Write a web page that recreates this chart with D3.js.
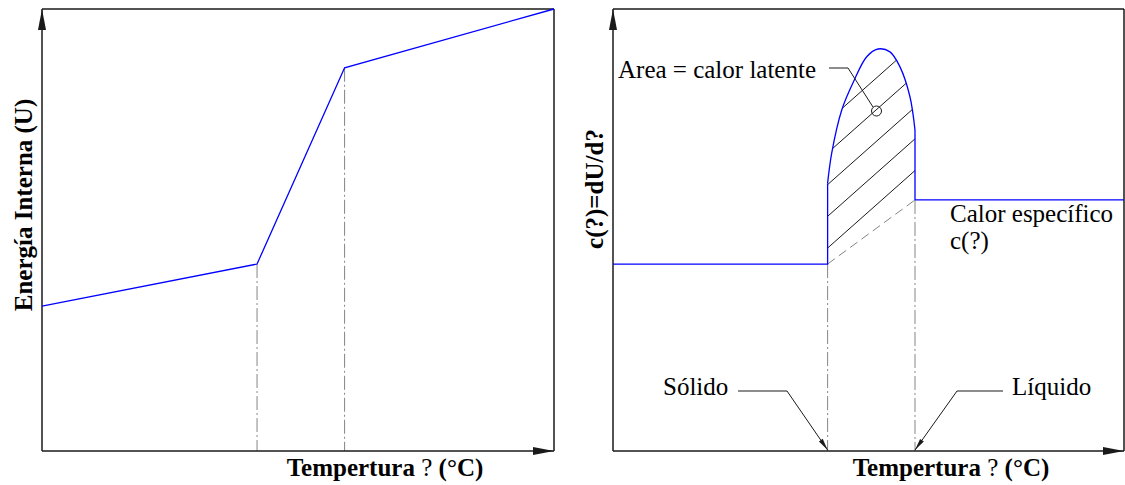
<!DOCTYPE html>
<html><head><meta charset="utf-8">
<script src="https://cdn.jsdelivr.net/npm/d3@7"></script>
<style>body{margin:0;background:#fff}svg{display:block}</style></head>
<body><svg id="c" width="1125" height="485"></svg>
<script>
// ---- data ----
const tempDomain = [0, 100];
const valueDomain = [0, 100];
const uTemp = [0, 42, 59.1, 100];
const uEnergy = [32.8, 42.3, 86.7, 100];
const solidusT = 42, liquidusT = 59.1;
const cSolid = 42.3, cLiquid = 56.8;
const domeTemp = [42, 42.8, 44.75, 46.97, 49.65, 51.86, 54.2, 56.16, 58.1, 59.1];
const domeC = [60.6, 67.4, 77.1, 83.3, 89.2, 90.95, 90.3, 86.9, 80.2, 72.6];
const xTitleParts = ["Tempertura", " ? ", "(°C)"];
const yTitleLeft = "Energía Interna (U)";
const yTitleRight = "c(?)=dU/d?";
const annArea = "Area = calor latente";
const annSolid = "Sólido";
const annLiquid = "Líquido";
const annCp = ["Calor específico", "c(?)"];

// ---- setup ----
const svg = d3.select("#c");
const FONT = "'Liberation Serif','Times New Roman',serif";
const FS = 25;
const INK = "#1a1a1a", BLUE = "#0000ff", GRAY = "#858585";

const defs = svg.append("defs");
defs.append("marker").attr("id", "axArrow").attr("markerUnits", "userSpaceOnUse")
  .attr("viewBox", "-21 -5 22 10").attr("refX", 0).attr("refY", 0)
  .attr("markerWidth", 22).attr("markerHeight", 10).attr("orient", "auto")
  .append("path").attr("d", "M-21,-4 L0,0 L-21,4 Z").attr("fill", INK);
defs.append("marker").attr("id", "ldArrow").attr("markerUnits", "userSpaceOnUse")
  .attr("viewBox", "-13 -4 14 8").attr("refX", 0).attr("refY", 0)
  .attr("markerWidth", 14).attr("markerHeight", 8).attr("orient", "auto")
  .append("path").attr("d", "M-12,-2.3 L0,0 L-12,2.3 Z").attr("fill", INK);

function frame(x, y) {
  const [x0, x1] = x.range(), [y0, y1] = y.range();
  const g = svg.append("g");
  g.append("line").attr("x1", x0).attr("y1", y1).attr("x2", x1).attr("y2", y1)
    .attr("stroke", INK).attr("stroke-width", 1.5);
  g.append("line").attr("x1", x1).attr("y1", y1).attr("x2", x1).attr("y2", y0)
    .attr("stroke", INK).attr("stroke-width", 1.5);
  g.append("line").attr("x1", x0).attr("y1", y0).attr("x2", x1).attr("y2", y0)
    .attr("stroke", INK).attr("stroke-width", 1.5).attr("marker-end", "url(#axArrow)");
  g.append("line").attr("x1", x0).attr("y1", y0).attr("x2", x0).attr("y2", y1)
    .attr("stroke", INK).attr("stroke-width", 1.5).attr("marker-end", "url(#axArrow)");
}
function dashDot(x, y, t, v) {
  svg.append("line").attr("x1", x(t)).attr("x2", x(t)).attr("y1", y(v)).attr("y2", y(0))
    .attr("stroke", GRAY).attr("stroke-width", 1).attr("stroke-dasharray", "14,3,2,3");
}
function xTitle(cx) {
  const t = svg.append("text").attr("x", cx).attr("y", 476).attr("text-anchor", "middle")
    .attr("font-family", FONT).attr("font-size", FS).attr("fill", "#000");
  xTitleParts.forEach((s, i) => t.append("tspan").text(s)
    .attr("font-weight", i === 1 ? "normal" : "bold"));
}
function yTitle(bx, cy, s) {
  svg.append("text").attr("transform", `translate(${bx},${cy}) rotate(-90)`)
    .attr("text-anchor", "middle").attr("font-family", FONT).attr("font-size", FS)
    .attr("font-weight", "bold").attr("fill", "#000").text(s);
}

// ---- left panel ----
const xL = d3.scaleLinear(tempDomain, [42, 554]);
const yL = d3.scaleLinear(valueDomain, [451, 9]);
dashDot(xL, yL, uTemp[1], uEnergy[1]);
dashDot(xL, yL, uTemp[2], uEnergy[2]);
frame(xL, yL);
svg.append("path").datum(uTemp.map((t, i) => [t, uEnergy[i]]))
  .attr("d", d3.line().x(d => xL(d[0])).y(d => yL(d[1])))
  .attr("fill", "none").attr("stroke", BLUE).attr("stroke-width", 1.3);
xTitle(385);
yTitle(32, 205, yTitleLeft);

// ---- right panel ----
const xR = d3.scaleLinear(tempDomain, [613, 1124]);
const yR = d3.scaleLinear(valueDomain, [451, 9]);
const dome = domeTemp.map((t, i) => [t, domeC[i]]);

// hatch clip
defs.append("clipPath").attr("id", "domeClip").append("path")
  .attr("d", d3.line().x(d => xR(d[0])).y(d => yR(d[1])).curve(d3.curveCatmullRom.alpha(0.5))(dome)
    + "L" + xR(liquidusT) + "," + yR(cLiquid) + "L" + xR(solidusT) + "," + yR(cSolid) + "Z");
const hatch = svg.append("g").attr("clip-path", "url(#domeClip)");
const slope = 0.887, step = 31.7, ax = xR(solidusT), ay = yR(cSolid) - 16;
d3.range(-9, 4).forEach(k => {
  const b = ay + k * step, xa = ax - 20, xb = ax + 120;
  hatch.append("line").attr("x1", xa).attr("y1", b + slope * 20)
    .attr("x2", xb).attr("y2", b - slope * 120)
    .attr("stroke", "#000").attr("stroke-width", 0.9);
});

dashDot(xR, yR, solidusT, cSolid);
dashDot(xR, yR, liquidusT, cLiquid);
svg.append("line").attr("x1", xR(solidusT)).attr("y1", yR(cSolid))
  .attr("x2", xR(liquidusT)).attr("y2", yR(cLiquid))
  .attr("stroke", GRAY).attr("stroke-width", 1).attr("stroke-dasharray", "9,5");
frame(xR, yR);

const lineR = d3.line().x(d => xR(d[0])).y(d => yR(d[1]));
const blue = p => p.attr("fill", "none").attr("stroke", BLUE).attr("stroke-width", 1.3);
svg.append("path").datum([[tempDomain[0], cSolid], [solidusT, cSolid], dome[0]]).attr("d", lineR).call(blue);
svg.append("path").datum(dome).attr("d", d3.line().x(d => xR(d[0])).y(d => yR(d[1])).curve(d3.curveCatmullRom.alpha(0.5))).call(blue);
svg.append("path").datum([dome[dome.length - 1], [liquidusT, cLiquid], [tempDomain[1], cLiquid]])
  .attr("d", lineR).call(blue);

xTitle(951);
yTitle(603, 189, yTitleRight);

// annotations
const txt = (x, y, s) => svg.append("text").attr("x", x).attr("y", y)
  .attr("font-family", FONT).attr("font-size", FS).attr("fill", "#000").text(s);
txt(618, 78, annArea);
svg.append("path").attr("d", "M829,68 L848,68 L873,107").attr("fill", "none")
  .attr("stroke", INK).attr("stroke-width", 1);
svg.append("circle").attr("cx", 876.5).attr("cy", 111).attr("r", 5)
  .attr("fill", "none").attr("stroke", INK).attr("stroke-width", 1);

txt(663, 395, annSolid);
svg.append("path").attr("d", `M738,391 L787,391 L${xR(solidusT)},${yR(0) - 1}`)
  .attr("fill", "none").attr("stroke", INK).attr("stroke-width", 1).attr("marker-end", "url(#ldArrow)");
txt(1012, 395, annLiquid);
svg.append("path").attr("d", `M1003,391 L957,391 L${xR(liquidusT)},${yR(0) - 1}`)
  .attr("fill", "none").attr("stroke", INK).attr("stroke-width", 1).attr("marker-end", "url(#ldArrow)");

txt(950, 222, annCp[0]);
txt(950, 249, annCp[1]);
</script></body></html>
